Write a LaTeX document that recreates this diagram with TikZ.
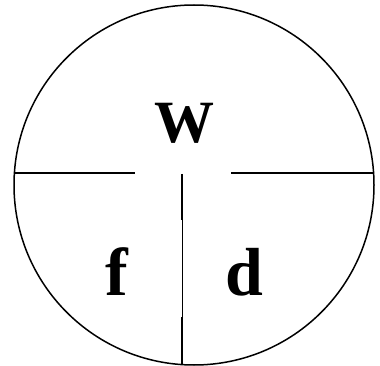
\documentclass[tikz,border=0pt]{standalone}
\usepackage{fontspec}
\setmainfont{Liberation Serif}
\usepackage{tikz}
\usetikzlibrary{calc}

\begin{document}
\begin{tikzpicture}[x=1pt,y=-1pt,
    letter/.style={anchor=base west,font=\fontsize{68}{68}\selectfont\bfseries,inner sep=0pt}]
    \useasboundingbox (0,0) rectangle (380,366);
    \node[draw,circle,line width=1.5pt,minimum size=360pt,inner sep=0pt] (disc) at (194,185) {};
    % dividing lines
    \coordinate (hl1) at (14.4,173);
    \coordinate (hl2) at (135,173);
    \coordinate (hr1) at (231,173);
    \coordinate (hr2) at (373.6,173);
    \draw[line width=1.6pt] (hl1) -- (hl2);
    \draw[line width=1.6pt] (hr1) -- (hr2);
    \coordinate (v1) at (182,174);
    \coordinate (v2) at (182,220);
    \coordinate (v3) at (182,317);
    \coordinate (v4) at (182,364.6);
    \draw[line width=1.8pt] (v1) -- (v2);
    \draw[line width=0.9pt] (v2) -- (v3);
    \draw[line width=1.8pt] (v3) -- (v4);
    % labels
    \node[letter,font=\fontsize{60}{60}\selectfont\bfseries] (w) at (154,143) {W};
    \node[letter] (f) at (105,295) {f};
    \node[letter] (d) at (225,295) {d};
\end{tikzpicture}
\end{document}
